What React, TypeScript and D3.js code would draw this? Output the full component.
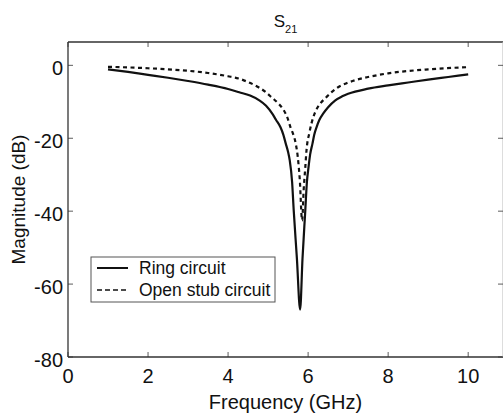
import React from "react";
import * as d3 from "d3";

// Ring circuit S21 (solid)
const ringFreq = [1, 1.5, 2, 2.5, 3, 3.5, 4, 4.28, 4.55, 4.78, 4.95, 5.1, 5.2, 5.31, 5.38, 5.44, 5.5, 5.54, 5.6, 5.64, 5.72, 5.8, 5.86, 5.93, 5.97, 6.01, 6.05, 6.11, 6.15, 6.21, 6.28, 6.38, 6.5, 6.68, 6.85, 7, 7.5, 8, 8.5, 9, 9.5, 10];
const ringDb = [-1.1, -1.8, -2.6, -3.4, -4.3, -5.3, -6.5, -7.4, -8.3, -9.6, -11.1, -13.2, -15, -17, -19, -21.4, -23.8, -26, -32, -39.7, -53, -67, -53, -39.7, -32, -28, -24.5, -21.4, -19.2, -17, -15, -13.2, -11.5, -9.6, -8.5, -7.8, -6.4, -5.5, -4.7, -3.9, -3.2, -2.5];

// Open stub circuit S21 (dashed)
const stubFreq = [1, 2, 3, 3.5, 4, 4.26, 4.5, 4.76, 4.95, 5.09, 5.25, 5.39, 5.48, 5.56, 5.63, 5.69, 5.74, 5.79, 5.85, 5.89, 5.93, 5.96, 6.03, 6.13, 6.2, 6.31, 6.45, 6.58, 6.75, 6.96, 7.2, 7.5, 8, 9, 10];
const stubDb = [-0.4, -0.8, -1.5, -2.1, -3.0, -3.6, -4.6, -6.0, -7.4, -8.8, -10.4, -12.3, -14.3, -17, -19, -21.4, -25, -31, -42.5, -34, -27.9, -23.3, -18.6, -14.2, -12.3, -10.4, -8.8, -7.4, -6.0, -4.9, -4.0, -3.2, -2.2, -1.1, -0.5];

const xTicks = [0, 2, 4, 6, 8, 10];
const yTicks = [0, -20, -40, -60, -80];
const legendLabels = ["Ring circuit", "Open stub circuit"];

const W = 503;
const H = 415;
const margin = { top: 42, right: 0, bottom: 58, left: 68 };
const font = "'Liberation Sans', Arial, sans-serif";

export default function App() {
  const x = d3.scaleLinear().domain([0, 10.87]).range([margin.left, W - margin.right]);
  const y = d3.scaleLinear().domain([-80, 6.4]).range([H - margin.bottom, margin.top]);

  const line = d3
    .line<[number, number]>()
    .x((d) => x(d[0]))
    .y((d) => y(d[1]))
    .curve(d3.curveMonotoneX);

  const ring = ringFreq.map((f, i) => [f, ringDb[i]] as [number, number]);
  const stub = stubFreq.map((f, i) => [f, stubDb[i]] as [number, number]);

  const x0 = x.range()[0], x1 = x.range()[1];
  const y0 = y.range()[0], y1 = y.range()[1];
  const axisColor = "#333";

  // legend box
  const lx = 91, ly = 257, lw = 184, lh = 45;

  return (
    <svg width={W} height={H} style={{ position: "fixed", left: 0, top: 0, background: "#fff" }} fontFamily={font}>
      <rect x={0} y={0} width={W} height={H} fill="#fff" />
      {/* title */}
      <text x={(x0 + x1) / 2} y={27} textAnchor="middle" fontSize={17} fill="#111">
        S<tspan fontSize={11} dy={6}>21</tspan>
      </text>

      {/* frame */}
      <line x1={x0} x2={x1} y1={y1} y2={y1} stroke={axisColor} strokeWidth={1.3} />
      <line x1={x0} x2={x1} y1={y0} y2={y0} stroke={axisColor} strokeWidth={1.3} />
      <line x1={x0} x2={x0} y1={y0} y2={y1} stroke={axisColor} strokeWidth={1.3} />
      <line x1={x1} x2={x1} y1={y0} y2={y1} stroke="#bbb" strokeWidth={1} />

      {/* x ticks */}
      {xTicks.map((t) => (
        <g key={"x" + t}>
          <line x1={x(t)} x2={x(t)} y1={y0} y2={y0 - 5} stroke={axisColor} strokeWidth={0.8} />
          <line x1={x(t)} x2={x(t)} y1={y1} y2={y1 + 5} stroke={axisColor} strokeWidth={0.8} />
          <text x={x(t)} y={y0 + 26} textAnchor="middle" fontSize={20} fill="#111">
            {t}
          </text>
        </g>
      ))}

      {/* y ticks */}
      {yTicks.map((t) => (
        <g key={"y" + t}>
          <line x1={x0} x2={x0 + 5} y1={y(t)} y2={y(t)} stroke={axisColor} strokeWidth={0.8} />
          <line x1={x1} x2={x1 - 5} y1={y(t)} y2={y(t)} stroke={axisColor} strokeWidth={0.8} />
          <text x={x0 - 5} y={y(t) + 10} textAnchor="end" fontSize={20} fill="#111">
            {t}
          </text>
        </g>
      ))}

      {/* axis labels */}
      <text x={(x0 + x1) / 2} y={409} textAnchor="middle" fontSize={20} fill="#111">
        Frequency (GHz)
      </text>
      <text
        transform={`translate(25, ${(y0 + y1) / 2}) rotate(-90)`}
        textAnchor="middle"
        fontSize={19}
        fill="#111"
      >
        Magnitude (dB)
      </text>

      {/* curves */}
      <path d={line(stub) ?? ""} fill="none" stroke="#111" strokeWidth={2.2} strokeDasharray="4,3.5" />
      <path d={line(ring) ?? ""} fill="none" stroke="#111" strokeWidth={2.2} />

      {/* legend */}
      <rect x={lx} y={ly} width={lw} height={lh} fill="#fff" stroke="#555" strokeWidth={1} />
      {legendLabels.map((label, i) => {
        const cy = ly + 11 + i * 22;
        return (
          <g key={label}>
            <line
              x1={lx + 6}
              x2={lx + 37}
              y1={cy}
              y2={cy}
              stroke="#111"
              strokeWidth={i === 0 ? 2 : 1.4}
              strokeDasharray={i === 0 ? undefined : "5,3"}
            />
            <text x={lx + 48} y={cy + 6} fontSize={17.5} fill="#111">
              {label}
            </text>
          </g>
        );
      })}
    </svg>
  );
}
